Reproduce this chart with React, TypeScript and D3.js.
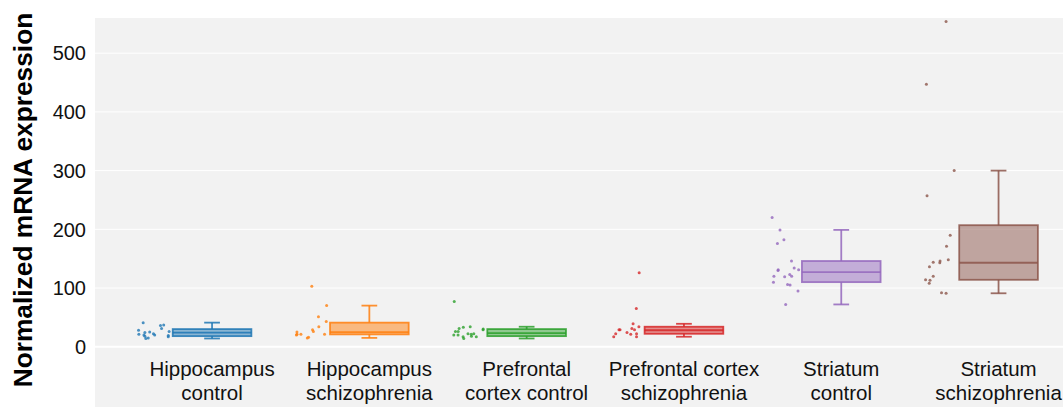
import React, { useRef, useEffect } from "react";
import * as d3 from "d3";

// groups on the x axis, each label split over two lines
const categories = [
  "Hippocampus control",
  "Hippocampus schizophrenia",
  "Prefrontal cortex control",
  "Prefrontal cortex schizophrenia",
  "Striatum control",
  "Striatum schizophrenia",
];
const labelLines = [
  ["Hippocampus", "control"],
  ["Hippocampus", "schizophrenia"],
  ["Prefrontal", "cortex control"],
  ["Prefrontal cortex", "schizophrenia"],
  ["Striatum", "control"],
  ["Striatum", "schizophrenia"],
];
const colors = ["#1f77b4", "#ff7f0e", "#2ca02c", "#d62728", "#9467bd", "#8c564b"];

// box statistics
const lowerWhisker = [14, 15, 14, 17, 72, 91];
const q1 = [18, 21, 18, 22, 110, 114];
const median = [24, 25, 23, 28, 127, 143];
const q3 = [30, 41, 30, 34, 146, 207];
const upperWhisker = [41, 70, 34, 39, 199, 300];

// individual samples
const hippoControl = [41, 37, 36, 31, 28, 26, 24, 25, 20, 22, 21, 19, 20, 18, 17, 15, 14];
const hippoSchizo = [103, 70, 43, 51, 34, 26, 29, 25, 21, 16, 21, 21, 15, 20];
const pfcControl = [77, 34, 31, 33, 29, 26, 30, 26, 22, 20, 21, 18, 17, 17, 22, 20, 14];
const pfcSchizo = [126, 65, 39, 34, 31, 29, 29, 29, 24, 22, 22, 21, 17, 17];
const striatumControl = [220, 199, 182, 176, 146, 130, 131, 131, 134, 123, 120, 120, 119, 110, 106, 105, 95, 72];
const striatumSchizo = [554, 447, 300, 257, 190, 171, 146, 144, 148, 143, 136, 120, 113, 114, 108, 92, 91];
const samples = [hippoControl, hippoSchizo, pfcControl, pfcSchizo, striatumControl, striatumSchizo];

const yTicks = [0, 100, 200, 300, 400, 500];

const App = () => {
  const container = useRef(null);

  const width = 1063;
  const height = 407;

  useEffect(() => {
    const svg = d3.select(container.current);
    svg.selectAll("*").remove();

    const font = "'Liberation Sans', Arial, sans-serif";

    const xScale = d3
      .scaleBand()
      .domain(categories)
      .range([133.4, 1077.2])
      .padding(0);
    const bw = xScale.bandwidth();
    const center = (i) => xScale(categories[i]) + bw / 2;

    const yScale = d3.scaleLinear().domain([0, 560]).range([346.7, 18]);

    // plot background
    svg
      .append("rect")
      .attr("x", 95)
      .attr("y", yScale(560))
      .attr("width", width - 95)
      .attr("height", height - yScale(560))
      .attr("fill", "#f2f2f2");

    // grid
    svg
      .append("g")
      .selectAll("line")
      .data(yTicks)
      .enter()
      .append("line")
      .attr("x1", 95)
      .attr("x2", width)
      .attr("y1", (d) => yScale(d))
      .attr("y2", (d) => yScale(d))
      .attr("stroke", "#ffffff")
      .attr("stroke-width", (d) => (d === 0 ? 2 : 1));

    // jittered points, seeded so they stay put
    const jitter = d3.randomUniform.source(d3.randomLcg(0.137))(-1, 1);
    const pts = svg.append("g");
    samples.forEach((vals, i) => {
      pts
        .selectAll(null)
        .data(vals)
        .enter()
        .append("circle")
        .attr("cx", () => center(i) - bw * 0.37 + jitter() * bw * 0.1)
        .attr("cy", (d) => yScale(d))
        .attr("r", 1.5)
        .attr("fill", colors[i])
        .attr("fill-opacity", 0.8);
    });

    // boxes
    const boxes = svg
      .append("g")
      .selectAll("g")
      .data(categories)
      .enter()
      .append("g")
      .attr("stroke", (d, i) => colors[i])
      .attr("stroke-opacity", 0.85)
      .attr("stroke-width", 1.8);

    const half = bw * 0.25;
    const cap = half * 0.2;

    boxes
      .append("line")
      .attr("x1", (d, i) => center(i))
      .attr("x2", (d, i) => center(i))
      .attr("y1", (d, i) => yScale(upperWhisker[i]))
      .attr("y2", (d, i) => yScale(q3[i]));
    boxes
      .append("line")
      .attr("x1", (d, i) => center(i))
      .attr("x2", (d, i) => center(i))
      .attr("y1", (d, i) => yScale(q1[i]))
      .attr("y2", (d, i) => yScale(lowerWhisker[i]));
    boxes
      .append("line")
      .attr("x1", (d, i) => center(i) - cap)
      .attr("x2", (d, i) => center(i) + cap)
      .attr("y1", (d, i) => yScale(upperWhisker[i]))
      .attr("y2", (d, i) => yScale(upperWhisker[i]));
    boxes
      .append("line")
      .attr("x1", (d, i) => center(i) - cap)
      .attr("x2", (d, i) => center(i) + cap)
      .attr("y1", (d, i) => yScale(lowerWhisker[i]))
      .attr("y2", (d, i) => yScale(lowerWhisker[i]));
    boxes
      .append("rect")
      .attr("x", (d, i) => center(i) - half)
      .attr("width", half * 2)
      .attr("y", (d, i) => yScale(q3[i]))
      .attr("height", (d, i) => yScale(q1[i]) - yScale(q3[i]))
      .attr("fill", (d, i) => colors[i])
      .attr("fill-opacity", 0.5);
    boxes
      .append("line")
      .attr("x1", (d, i) => center(i) - half)
      .attr("x2", (d, i) => center(i) + half)
      .attr("y1", (d, i) => yScale(median[i]))
      .attr("y2", (d, i) => yScale(median[i]));

    // y tick labels
    svg
      .append("g")
      .selectAll("text")
      .data(yTicks)
      .enter()
      .append("text")
      .attr("x", 86)
      .attr("y", (d) => yScale(d))
      .attr("dy", "0.36em")
      .attr("text-anchor", "end")
      .style("font-family", font)
      .style("font-size", "20px")
      .style("fill", "#111")
      .text((d) => d);

    // category labels
    const labels = svg
      .append("g")
      .selectAll("text")
      .data(labelLines)
      .enter()
      .append("text")
      .attr("text-anchor", "middle")
      .style("font-family", font)
      .style("font-size", "20.5px")
      .style("fill", "#111");
    labels
      .selectAll("tspan")
      .data((d, i) => d.map((t) => ({ t, i })))
      .enter()
      .append("tspan")
      .attr("x", (d) => center(d.i))
      .attr("y", (d, j) => 376 + j * 23.5)
      .text((d) => d.t);

    // axis title
    svg
      .append("text")
      .attr("transform", `translate(32, 200) rotate(-90)`)
      .attr("text-anchor", "middle")
      .style("font-family", font)
      .style("font-size", "26.3px")
      .style("font-weight", "bold")
      .style("fill", "#000")
      .text("Normalized mRNA expression");
  }, []);

  return (
    <div style={{ width: width, height: height, overflow: "hidden" }}>
      <style>{`body { margin: 0; }`}</style>
      <svg ref={container} width={width} height={height} style={{ display: "block" }} />
    </div>
  );
};

export default App;
